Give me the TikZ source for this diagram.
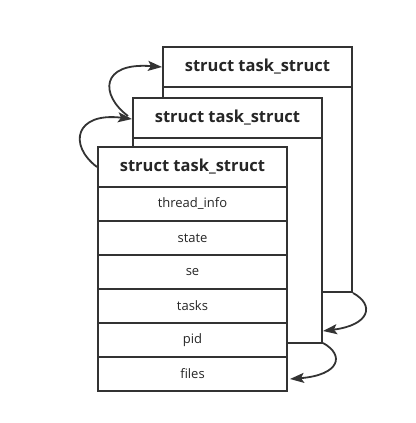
\documentclass[tikz,border=0pt]{standalone}
\usepackage{fontspec}
\setmainfont{Open Sans}
\usetikzlibrary{arrows.meta}
\begin{document}
\begin{tikzpicture}[x=1pt,y=-1pt,
  box/.style={draw=black!80,line width=2.2pt,fill=white,anchor=north west,inner sep=0pt,outer sep=0pt,minimum width=189pt},
  head/.style={box,minimum height=40pt,font=\fontsize{16.5}{18}\selectfont\bfseries,text=black!85},
  row/.style={box,minimum height=34pt,font=\fontsize{13}{15}\selectfont,text=black!85},
  link/.style={draw=black!80,line width=1.8pt,-{Stealth[length=14pt,width=10pt,inset=3pt]}}]
\useasboundingbox (0,0) rectangle (415,423);
% back box
\node[box,minimum height=245pt] (backbody) at (163,47) {};
\node[head] (backhead) at (163,47) {struct task\_struct};
% middle box
\node[box,minimum height=245pt] (midbody) at (133,98) {};
\node[head] (midhead) at (133,98) {struct task\_struct};
% front box
\node[head] (fronthead) at (98,147) {struct task\_struct};
\node[row] (r1) at (fronthead.south west) {thread\_info};
\node[row] (r2) at (r1.south west) {state};
\node[row] (r3) at (r2.south west) {se};
\node[row] (r4) at (r3.south west) {tasks};
\node[row] (r5) at (r4.south west) {pid};
\node[row] (r6) at (r5.south west) {files};
% arrows
\coordinate (s1) at (128,116);
\coordinate (e1) at (162,67);
\draw[link] (s1) .. controls (100,95) and (100,62) .. (e1);
\coordinate (s2) at (97,167);
\coordinate (e2) at (132,119);
\draw[link] (s2) .. controls (68,145) and (75,112) .. (e2);
\coordinate (s3) at (353,293);
\coordinate (e3) at (323,331);
\draw[link] (s3) .. controls (375,305) and (370,325) .. (e3);
\coordinate (s4) at (323,343);
\coordinate (e4) at (290,379);
\draw[link] (s4) .. controls (345,355) and (340,375) .. (e4);
\end{tikzpicture}
\end{document}
